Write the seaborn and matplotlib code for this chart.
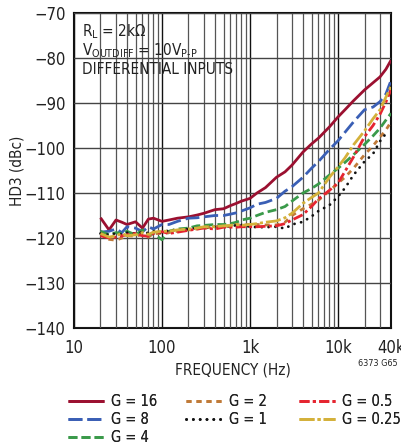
import numpy as np
import pandas as pd
import matplotlib
matplotlib.use("Agg")
import matplotlib.pyplot as plt
from matplotlib import font_manager
from matplotlib.ticker import LogLocator, NullFormatter
from matplotlib.patches import Rectangle
import seaborn as sns

freq = [20, 25, 30, 35, 40, 50, 60, 70, 80, 100, 120, 150, 200, 250, 300, 400, 500, 600,
        700, 800, 1000, 1200, 1500, 2000, 2500, 3000, 4000, 5000, 6000, 8000, 10000, 12000,
        15000, 20000, 25000, 30000, 35000, 40000]

g16 = [-115.5, -118.2, -116.0, -116.5, -117.0, -116.4, -117.8, -115.8, -115.6, -116.3, -116.0,
       -115.6, -115.3, -114.9, -114.5, -113.7, -113.5, -112.8, -112.3, -111.8, -111.2, -110.0,
       -108.8, -106.5, -105.3, -103.8, -100.9, -99.1, -97.8, -95.3, -93.1, -91.5, -89.5, -87.1,
       -85.5, -84.2, -82.5, -80.5]
g8 = [-118.7, -118.5, -118.0, -118.8, -117.5, -117.8, -118.6, -117.5, -118.0, -117.0, -117.0,
      -116.3, -115.6, -115.5, -115.3, -115.0, -115.0, -114.7, -114.4, -114.0, -113.3, -112.5,
      -112.1, -111.2, -109.6, -108.6, -106.5, -104.5, -103.0, -100.3, -98.4, -96.5, -94.2,
      -91.5, -90.9, -89.7, -88.0, -85.0]
g4 = [-118.5, -119.3, -118.8, -119.0, -118.5, -119.3, -118.2, -119.5, -119.0, -120.4, -118.5,
      -118.0, -117.8, -117.3, -117.2, -117.0, -117.0, -116.8, -116.5, -116.0, -115.6, -115.0,
      -114.3, -113.7, -113.0, -111.8, -110.0, -109.0, -108.0, -106.0, -104.5, -103.2, -101.5,
      -99.2, -97.3, -95.6, -93.8, -92.3]
g2 = [-119.0, -120.3, -120.5, -120.0, -119.5, -119.6, -119.2, -119.8, -119.0, -119.0, -118.8,
      -118.5, -118.2, -118.0, -117.8, -117.5, -117.3, -117.5, -117.0, -117.2, -117.0, -117.0,
      -117.1, -117.1, -116.5, -115.0, -113.5, -112.5, -111.6, -109.5, -107.8, -106.5, -104.5,
      -101.5, -99.5, -97.6, -96.0, -94.2]
g1 = [-119.0, -119.3, -119.0, -119.2, -118.8, -119.0, -118.7, -118.9, -118.5, -118.8, -118.3,
      -118.2, -118.0, -117.8, -117.6, -117.5, -117.4, -117.3, -117.2, -117.1, -117.5, -117.6,
      -117.6, -117.5, -117.9, -117.0, -116.4, -115.2, -114.0, -112.7, -110.8, -108.9, -106.0,
      -103.0, -101.3, -98.5, -96.8, np.nan]
g05 = [-119.5, -120.0, -119.8, -119.5, -119.3, -119.0, -119.5, -119.6, -119.0, -118.6, -119.0,
       -118.7, -118.3, -118.0, -117.8, -118.0, -117.6, -117.6, -117.6, -117.5, -117.5, -117.5,
       -117.4, -117.3, -116.8, -116.0, -114.8, -113.0, -111.3, -109.4, -107.8, -105.2, -102.0,
       -97.5, -95.0, -92.5, -89.8, -87.0]
g025 = [-119.0, -119.8, -119.5, -119.0, -119.5, -119.3, -118.8, -119.2, -118.7, -118.5, -118.5,
        -118.2, -118.0, -117.8, -117.5, -117.5, -117.3, -117.2, -117.0, -117.2, -117.0, -116.8,
        -116.5, -116.2, -115.5, -114.5, -112.3, -111.0, -110.0, -106.5, -104.2, -102.2, -99.3,
        -96.2, -93.5, -91.5, -88.7, -86.3]

labels = ["G = 16", "G = 8", "G = 4", "G = 2", "G = 1", "G = 0.5", "G = 0.25"]
series = [g16, g8, g4, g2, g1, g05, g025]
colors = ["#9b1030", "#3a5fb5", "#3a9a4a", "#c07a38", "#111111", "#e52530", "#d4b13a"]
styles = ["-", (0, (5.0, 1.8)), (0, (3.2, 1.5)), (0, (1.8, 1.8)), (0, (0.05, 2.4)),
          (0, (3.6, 1.2, 1.1, 1.2)), (0, (5.4, 1.1, 1.1, 1.1))]
caps = ["butt", "butt", "butt", "butt", "round", "butt", "butt"]

xticks = [10, 100, 1000, 10000, 40000]
xticklabels = ["10", "100", "1k", "10k", "40k"]
yticks = [-140, -130, -120, -110, -100, -90, -80, -70]

sns.set_theme(style="white")

# look for a condensed sans font
fam, stretch, narrow = "Liberation Sans", "normal", False
entries = font_manager.fontManager.ttflist
for f in entries:
    if f.name in ("Liberation Sans Narrow", "Arial Narrow"):
        fam, narrow = f.name, True
        break
if not narrow:
    for f in entries:
        st = str(f.stretch)
        if f.name in ("DejaVu Sans", "Noto Sans", "Open Sans", "Roboto") and (
                st in ("condensed", "semi-condensed") or (st.isdigit() and int(st) < 500)):
            fam, stretch, narrow = f.name, "condensed", True
            break
plt.rcParams["font.family"] = [fam, "DejaVu Sans"]
plt.rcParams["font.stretch"] = stretch
plt.rcParams["mathtext.fontset"] = "custom"
plt.rcParams["mathtext.rm"] = fam
plt.rcParams["mathtext.it"] = fam
plt.rcParams["axes.unicode_minus"] = True

fs = 11
fs_leg = 10.5
fs_tick = 12
txtc = "#222222"

fig = plt.figure(figsize=(4.02, 4.46), dpi=100)
ax = fig.add_axes([74 / 402, 1 - 328 / 446, 317 / 402, 315 / 446])

for lab, vals, col, ls, cap in zip(labels, series, colors, styles, caps):
    df = pd.DataFrame({"f": freq, "v": vals}).dropna()
    sns.lineplot(data=df, x="f", y="v", ax=ax, color=col, linestyle=ls, lw=2.0,
                 label=lab, zorder=3, legend=False, dash_capstyle=cap, solid_capstyle="butt")

ax.set_xscale("log")
ax.set_xlim(10, 40000)
ax.set_ylim(-140, -70)
ax.set_xticks(xticks)
ax.set_xticklabels(xticklabels)
ax.xaxis.set_minor_locator(LogLocator(base=10, subs=np.arange(2, 10)))
ax.xaxis.set_minor_formatter(NullFormatter())
ax.set_yticks(yticks)
ax.tick_params(axis="both", which="both", length=0, labelsize=fs_tick, colors=txtc)
ax.tick_params(axis="y", pad=6)
ax.tick_params(axis="x", pad=8)
ax.grid(True, which="major", axis="x", color="#111111", lw=1.0, zorder=1)
ax.grid(True, which="minor", axis="x", color="#555555", lw=0.9, zorder=1)
ax.grid(True, which="major", axis="y", color="#444444", lw=1.0, zorder=1)
for s in ax.spines.values():
    s.set_visible(True)
    s.set_color("#111111")
    s.set_linewidth(1.5)
ax.set_axisbelow(False)

# white box behind annotation text
ax.add_patch(Rectangle((0, 1 - 67 / 315), 194 / 317, 67 / 315, transform=ax.transAxes,
                       facecolor="white", edgecolor="none", zorder=2))
ax.text(0.025, 0.927, r"R$_\mathregular{L}$ = 2kΩ", transform=ax.transAxes, fontsize=fs,
        va="baseline", ha="left", zorder=4, color=txtc)
ax.text(0.025, 0.867, "V$_\\mathregular{OUTDIFF}$ = 10V$_\\mathregular{P\u2010P}$",
        transform=ax.transAxes, fontsize=fs, va="baseline", ha="left", zorder=4, color=txtc)
ax.text(0.025, 0.806, "DIFFERENTIAL INPUTS", transform=ax.transAxes, fontsize=fs,
        va="baseline", ha="left", zorder=4, color=txtc)

ax.set_xlabel("FREQUENCY (Hz)", fontsize=fs, color=txtc, labelpad=4)
ax.set_ylabel("HD3 (dBc)", fontsize=fs, color=txtc, labelpad=0)
fig.text(398 / 402, 1 - 364 / 446, "6373 G65", fontsize=6.5, ha="right", va="center",
         color=txtc)

handles, labs = ax.get_legend_handles_labels()
col_x = [68, 186, 299]
groups = [(0, 3), (3, 5), (5, 7)]
for cx, (a, b) in zip(col_x, groups):
    leg = fig.legend(handles[a:b], labs[a:b], loc="upper left",
                     bbox_to_anchor=(cx / 402, 1 - 394 / 446), ncol=1, frameon=False,
                     fontsize=fs_leg, handlelength=36 / (fs_leg * 100 / 72),
                     handletextpad=0.5, labelspacing=0.22, borderaxespad=0, borderpad=0,
                     labelcolor=txtc)
    fig.add_artist(leg)

fig.savefig("out.png", dpi=100)
